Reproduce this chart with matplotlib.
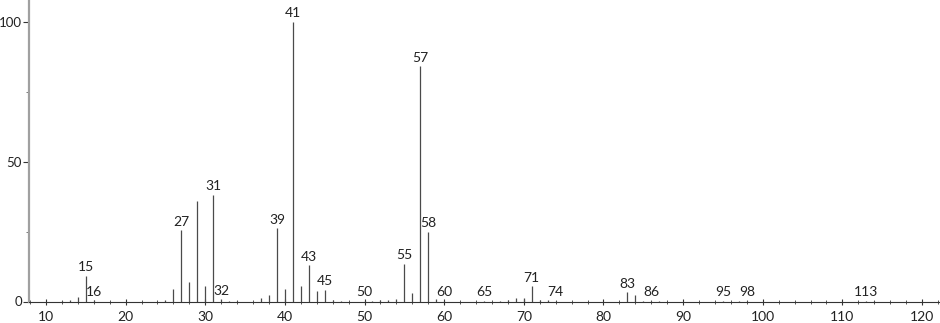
import numpy as np
import matplotlib
matplotlib.use('Agg')
import matplotlib.pyplot as plt
from matplotlib.ticker import MultipleLocator

# m/z values and relative intensities
mz = [12, 13, 14, 15, 16, 25, 26, 27, 28, 29, 30, 31, 32, 33, 34, 37, 38, 39, 40,
      41, 42, 43, 44, 45, 46, 47, 50, 51, 52, 53, 54, 55, 56, 57, 58, 59, 60, 65,
      67, 68, 69, 70, 71, 72, 73, 74, 83, 84, 85, 86, 87, 95, 97, 98, 113, 114]
intensity = [0.3, 0.5, 1.5, 9.2, 0.4, 0.4, 4.3, 25.5, 6.9, 35.8, 5.4, 38.2, 0.8, 0.3,
             0.3, 1.1, 2.4, 26.1, 4.4, 100, 5.7, 12.9, 3.7, 4.2, 0.7, 0.3, 0.3, 0.3,
             0.4, 0.6, 0.9, 13.4, 2.9, 84, 24.8, 1.0, 0.3, 0.2, 0.3, 0.7, 1.4, 1.4,
             5.4, 0.4, 0.6, 0.2, 3.3, 2.5, 0.3, 0.3, 0.2, 0.2, 0.3, 0.2, 0.2, 0.3]

# peaks that carry a label
labeled = [15, 16, 27, 31, 32, 39, 41, 43, 45, 50, 55, 57, 58, 60, 65, 71, 74,
           83, 86, 95, 98, 113]

plt.rcParams['font.family'] = ['Lato', 'DejaVu Sans']

fig = plt.figure(figsize=(9.4, 3.23), dpi=100)
ax = fig.add_axes([29 / 940, 21.5 / 323, 1 - 29 / 940, 1 - 21.5 / 323])

ax.vlines(mz, 0, intensity, color='#4a4a4a', linewidth=0.9)

peak = dict(zip(mz, intensity))
for m in labeled:
    ax.annotate(str(m), (m, peak[m]), xytext=(0, 3.3), textcoords='offset points',
                ha='center', va='baseline', fontsize=10, color='#222222')

ax.set_xlim(7.87, 122.26)
ax.set_ylim(0, 107.7)

ax.xaxis.set_major_locator(MultipleLocator(10))
ax.xaxis.set_minor_locator(MultipleLocator(2))
ax.set_xticks(np.arange(10, 121, 10))
ax.yaxis.set_major_locator(MultipleLocator(50))
ax.yaxis.set_minor_locator(MultipleLocator(25))

ax.tick_params(axis='x', which='major', direction='inout', length=5, width=0.8,
               color='#333333', labelsize=10, labelcolor='#222222', pad=4)
ax.tick_params(axis='x', which='minor', direction='inout', length=3.5, width=0.7,
               color='#555555')
ax.tick_params(axis='y', which='major', direction='out', length=4.6, width=0.8,
               color='#333333', labelsize=9.5, labelcolor='#222222', pad=0.5)
ax.tick_params(axis='y', which='minor', direction='out', length=2, width=0.7,
               color='#777777')

for side in ['top', 'right']:
    ax.spines[side].set_visible(False)
ax.spines['left'].set_color('#a0a0a0')
ax.spines['left'].set_linewidth(1.6)
ax.spines['bottom'].set_color('#333333')
ax.spines['bottom'].set_linewidth(0.8)
ax.patch.set_visible(False)

fig.savefig('out.png', dpi=100)
